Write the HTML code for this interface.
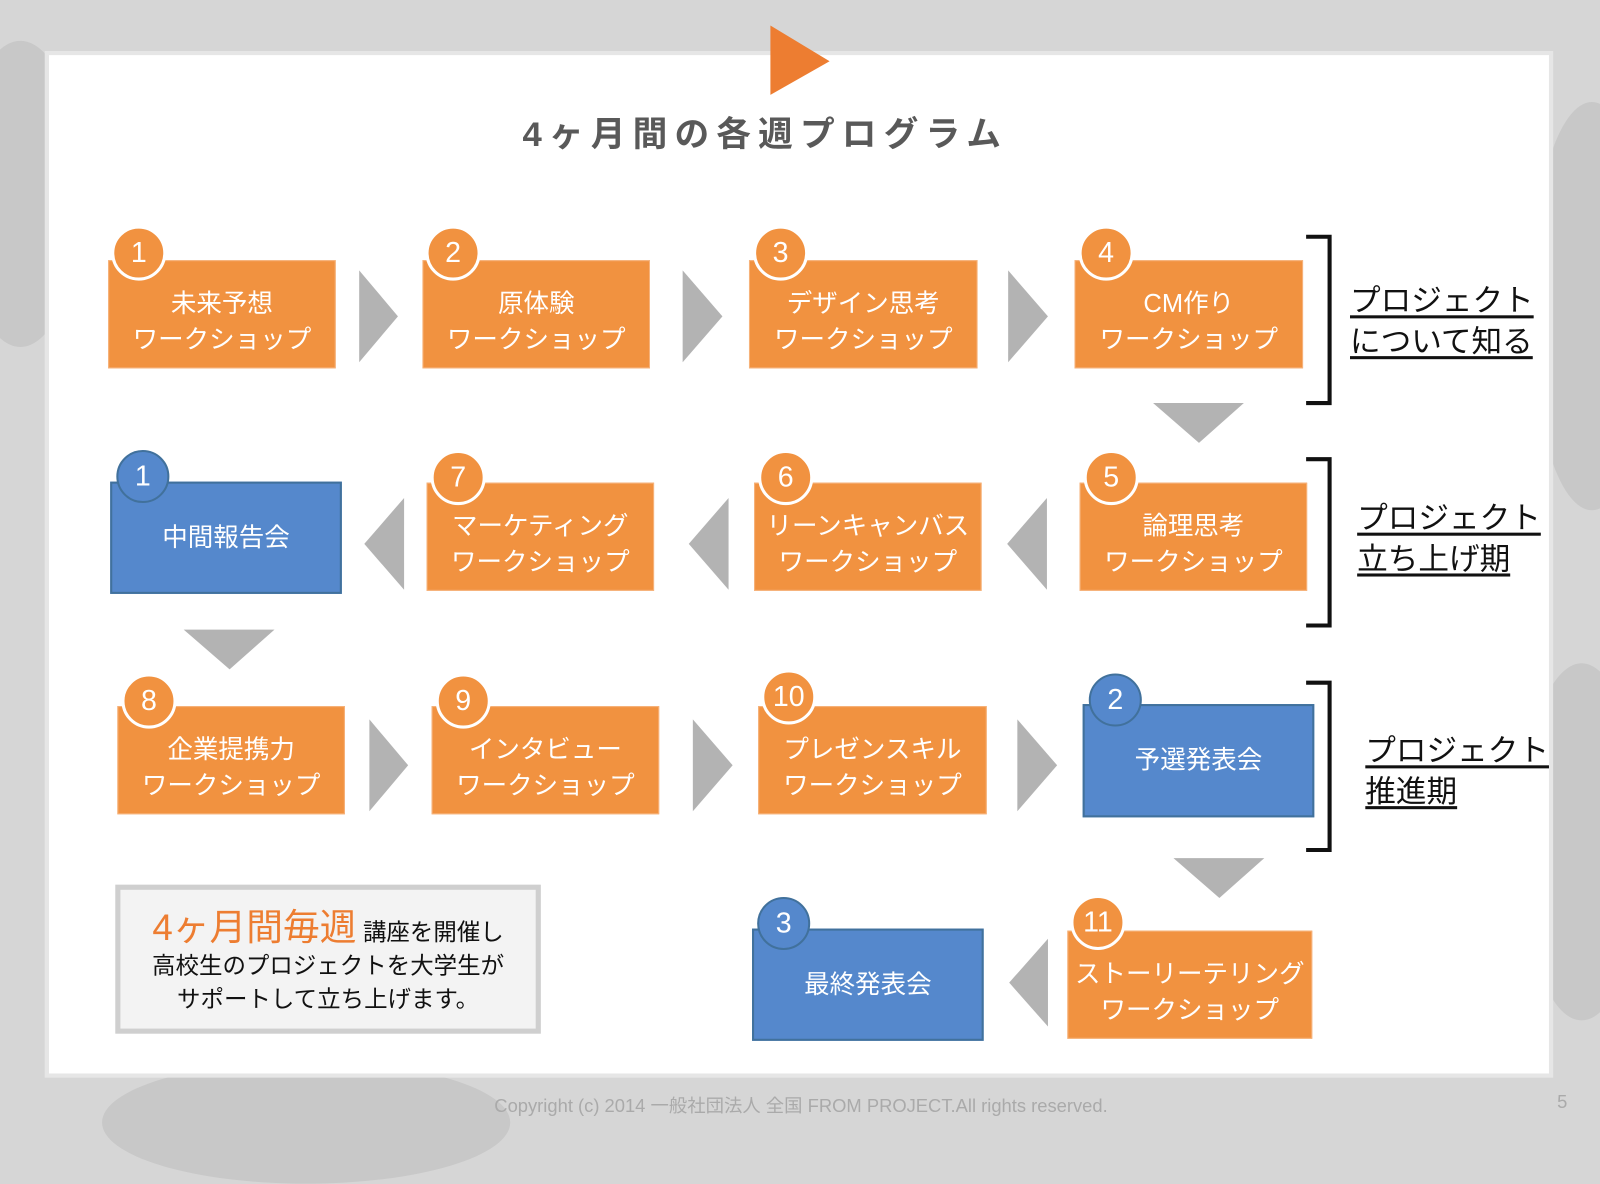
<!DOCTYPE html>
<html><head><meta charset="utf-8"><style>
html,body{margin:0;padding:0;width:1600px;height:1132px;overflow:hidden;background:#d6d6d6;}
#w{position:absolute;left:0;top:0;width:1568px;height:1109px;transform:scale(1.020408);transform-origin:0 0;font-family:"Liberation Sans","Noto Sans CJK JP",sans-serif;}
.bgp{position:absolute;border-radius:50%;background:#c8c8c8;}
.panel{position:absolute;left:44px;top:50px;width:1478px;height:1006px;background:#fff;border:4px solid #e6e6e6;box-sizing:border-box;}
.b{position:absolute;height:106px;background:#f19240;color:#fff;font-size:25px;line-height:35px;text-align:center;display:flex;align-items:center;justify-content:center;box-sizing:border-box;border:1px solid #f6b27a;padding-top:16px;}
.bl{background:#5588cc;border:2px solid #41719c;padding-top:0;}
.c{position:absolute;width:48px;height:48px;border-radius:50%;background:#f19240;border:3px solid #fff;color:#fff;font-size:28px;line-height:48px;text-align:center;transform:translate(-27px,-27px);}
.cb{background:#5588cc;border:2px solid #41719c;}
svg{position:absolute;left:0;top:0;}
.lab{position:absolute;font-size:30px;line-height:40px;color:#111;}
.lab span{text-decoration:underline;text-underline-offset:4px;}
</style></head><body><div id="w">
<div class="bgp" style="left:-40px;top:40px;width:120px;height:300px"></div>
<div class="bgp" style="left:1500px;top:100px;width:120px;height:400px"></div>
<div class="bgp" style="left:1490px;top:650px;width:120px;height:350px"></div>
<div class="bgp" style="left:100px;top:1040px;width:400px;height:120px"></div>
<div class="panel"></div>
<svg width="1568" height="1109">
<polygon points="755,25 813,60 755,93" fill="#ed7d31"/>
<g fill="#b3b3b3">
<polygon points="352,265 390,310 352,355"/><polygon points="669,265 708,310 669,355"/><polygon points="988,265 1027,310 988,355"/>
<polygon points="1130,395 1219,395 1175,434"/>
<polygon points="396,488 357,533 396,578"/><polygon points="714,488 675,533 714,578"/><polygon points="1026,488 987,533 1026,578"/>
<polygon points="180,617 269,617 225,656"/>
<polygon points="362,705 400,750 362,795"/><polygon points="679,705 718,750 679,795"/><polygon points="997,705 1036,750 997,795"/>
<polygon points="1150,841 1239,841 1195,880"/>
<polygon points="1027,920 989,963 1027,1006"/>
</g>
<g fill="none" stroke="#111" stroke-width="4">
<path d="M1280,232 H1303 V395 H1280"/>
<path d="M1280,450 H1303 V613 H1280"/>
<path d="M1280,669 H1303 V833 H1280"/>
</g>
</svg>
<div style="position:absolute;left:450px;top:104px;width:600px;text-align:center;font-size:34px;font-weight:bold;color:#595959;letter-spacing:7px;">4ヶ月間の各週プログラム</div>

<div class="b" style="left:106px;top:255px;width:223px">未来予想<br>ワークショップ</div>
<div class="b" style="left:414px;top:255px;width:223px">原体験<br>ワークショップ</div>
<div class="b" style="left:734px;top:255px;width:224px">デザイン思考<br>ワークショップ</div>
<div class="b" style="left:1053px;top:255px;width:224px">CM作り<br>ワークショップ</div>
<div class="c" style="left:136px;top:248px">1</div><div class="c" style="left:444px;top:248px">2</div><div class="c" style="left:765px;top:248px">3</div><div class="c" style="left:1084px;top:248px">4</div>

<div class="b bl" style="left:108px;top:472px;width:227px;height:110px">中間報告会</div>
<div class="b" style="left:418px;top:473px;width:223px">マーケティング<br>ワークショップ</div>
<div class="b" style="left:739px;top:473px;width:223px">リーンキャンバス<br>ワークショップ</div>
<div class="b" style="left:1058px;top:473px;width:223px">論理思考<br>ワークショップ</div>
<div class="c cb" style="left:141px;top:468px">1</div><div class="c" style="left:449px;top:468px">7</div><div class="c" style="left:770px;top:468px">6</div><div class="c" style="left:1089px;top:468px">5</div>

<div class="b" style="left:115px;top:692px;width:223px">企業提携力<br>ワークショップ</div>
<div class="b" style="left:423px;top:692px;width:223px">インタビュー<br>ワークショップ</div>
<div class="b" style="left:743px;top:692px;width:224px">プレゼンスキル<br>ワークショップ</div>
<div class="b bl" style="left:1061px;top:690px;width:227px;height:111px">予選発表会</div>
<div class="c" style="left:146px;top:687px">8</div><div class="c" style="left:454px;top:687px">9</div><div class="c" style="left:773px;top:683px">10</div><div class="c cb" style="left:1094px;top:687px">2</div>

<div class="b bl" style="left:737px;top:910px;width:227px;height:110px">最終発表会</div>
<div class="b" style="left:1046px;top:912px;width:240px;height:106px">ストーリーテリング<br>ワークショップ</div>
<div class="c cb" style="left:769px;top:906px">3</div><div class="c" style="left:1076px;top:904px">11</div>

<div style="position:absolute;left:113px;top:867px;width:417px;height:146px;box-sizing:border-box;border:5px solid #cfcfcf;background:#f3f3f3;text-align:center;font-size:23px;line-height:33px;color:#111;padding-top:20px;">
<span style="color:#ed7d31;font-size:36px">4ヶ月間毎週</span> 講座を開催し<br>高校生のプロジェクトを大学生が<br>サポートして立ち上げます。</div>

<div class="lab" style="left:1323px;top:276px"><span>プロジェクト</span><br><span>について知る</span></div>
<div class="lab" style="left:1330px;top:489px"><span>プロジェクト</span><br><span>立ち上げ期</span></div>
<div class="lab" style="left:1338px;top:717px"><span>プロジェクト</span><br><span>推進期</span></div>

<div style="position:absolute;left:385px;top:1070px;width:800px;text-align:center;font-size:18px;color:#aaa">Copyright (c) 2014 一般社団法人 全国 FROM PROJECT.All rights reserved.</div>
<div style="position:absolute;left:1526px;top:1070px;font-size:18px;color:#aaa">5</div>
</div></body></html>
